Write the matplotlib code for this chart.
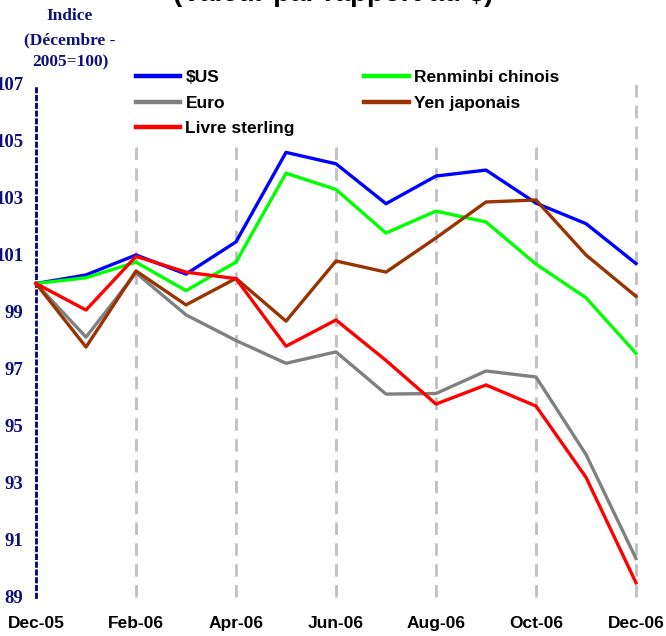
import matplotlib
matplotlib.use("Agg")
import matplotlib.pyplot as plt
import numpy as np

months = list(range(13))
tick_labels = ["Dec-05", "Feb-06", "Apr-06", "Jun-06", "Aug-06", "Oct-06", "Dec-06"]
tick_pos = [0, 2, 4, 6, 8, 10, 12]

usd = [100, 100.3, 101.0, 100.33, 101.46, 104.6, 104.2, 102.8, 103.77, 103.98, 102.82, 102.1, 100.7]
rmb = [100, 100.2, 100.75, 99.75, 100.75, 103.87, 103.3, 101.77, 102.54, 102.16, 100.68, 99.5, 97.55]
eur = [100, 98.12, 100.37, 98.9, 98.0, 97.2, 97.6, 96.12, 96.14, 96.93, 96.72, 94.0, 90.35]
jpy = [100, 97.77, 100.44, 99.25, 100.18, 98.68, 100.79, 100.4, 101.6, 102.86, 102.93, 101.0, 99.55]
gbp = [100, 99.07, 100.95, 100.4, 100.17, 97.8, 98.72, 97.3, 95.77, 96.44, 95.7, 93.2, 89.5]

yticks = [89, 91, 93, 95, 97, 99, 101, 103, 105, 107]

W, H = 666, 636
fig = plt.figure(figsize=(W / 100, H / 100), dpi=100)
ax = fig.add_axes([36 / W, 1 - 597 / H, 600 / W, 513 / H])

navy = "#10107a"

# vertical dashed grid lines
ax.vlines(tick_pos[1:], 89, 107, colors="#c0c0c0", linewidth=2.0,
          linestyles=(0, (4.5, 3)), zorder=1, clip_on=False)

lw = 2.4
ax.plot(months, usd, color="#0000ff", lw=lw, label="$US", zorder=3, clip_on=False)
ax.plot(months, eur, color="#808080", lw=lw, label="Euro", zorder=3, clip_on=False)
ax.plot(months, gbp, color="#ff0000", lw=lw, label="Livre sterling", zorder=4, clip_on=False)
ax.plot(months, rmb, color="#00ff00", lw=lw, label="Renminbi chinois", zorder=3, clip_on=False)
ax.plot(months, jpy, color="#993300", lw=lw, label="Yen japonais", zorder=3, clip_on=False)

ax.set_xlim(0, 12)
ax.set_ylim(89, 107)
ax.set_xticks(tick_pos)
ax.set_xticklabels(tick_labels, fontfamily="Liberation Sans", fontweight="bold",
                   fontsize=12.5, color="black")
ax.set_yticks(yticks)
ax.set_yticklabels([str(v) for v in yticks], fontfamily="Liberation Serif",
                   fontweight="bold", fontsize=13.5, color=navy)
ax.tick_params(axis="x", length=0, pad=14)
ax.tick_params(axis="y", length=0, pad=9)

for s in ["top", "right", "bottom"]:
    ax.spines[s].set_visible(False)
ax.spines["left"].set_color("#000080")
ax.spines["left"].set_linewidth(2.0)
ax.spines["left"].set_linestyle((0, (1.2, 1.6)))

# y-axis title
for txt, yy in [("Indice", 16), ("(Décembre -", 40), ("2005=100)", 62)]:
    fig.text(70 / W, 1 - yy / H, txt, ha="center", va="center",
             fontfamily="Liberation Serif", fontweight="bold", fontsize=12.5, color=navy)

# title (mostly cut off at the top)
fig.text(333 / W, 1 - 1.0 / H, "(Valeur par rapport au $)", ha="center", va="baseline",
         fontfamily="Liberation Sans", fontweight="bold", fontsize=20, color="black")

leg = ax.legend(ncol=2, loc="upper left", bbox_to_anchor=(129 / W, 1 - 63 / H),
                bbox_transform=fig.transFigure, borderaxespad=0,
                prop={"family": "Liberation Sans", "weight": "bold", "size": 12.5},
                frameon=True, framealpha=1, facecolor="white", edgecolor="none",
                fancybox=False, handlelength=2.55, handletextpad=0.3,
                columnspacing=4.0, labelspacing=0.6, borderpad=0.4)
for line in leg.get_lines():
    line.set_linewidth(3.2)
leg.set_zorder(5)

fig.savefig("out.png", dpi=100)
